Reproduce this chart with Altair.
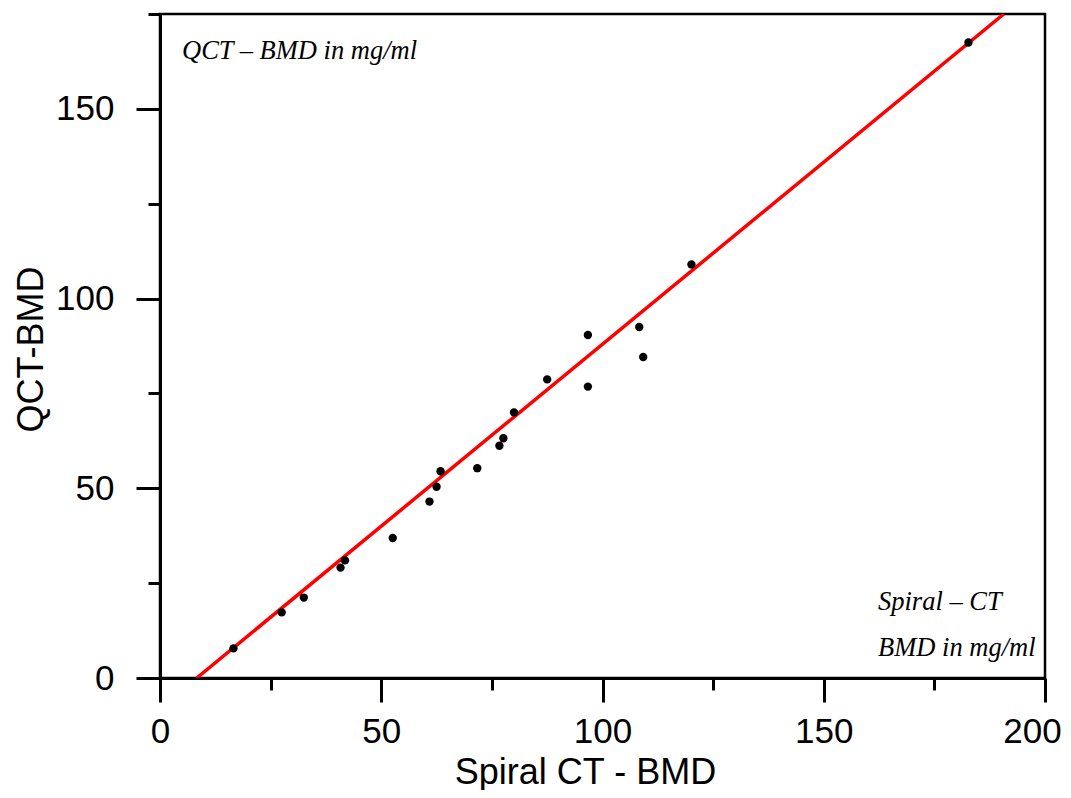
import altair as alt
import pandas as pd

# Scatter data (Spiral CT - BMD vs QCT-BMD)
spiral_ct = [16.6, 27.5, 32.5, 40.8, 41.8, 52.6, 60.9, 62.5, 63.4, 71.7, 76.7, 77.6,
             80.0, 87.5, 96.7, 96.7, 108.3, 109.2, 120.1, 182.7]
qct = [7.8, 17.3, 21.2, 29.1, 31.0, 36.9, 46.5, 50.4, 54.5, 55.3, 61.2, 63.2,
       70.0, 78.7, 90.4, 76.8, 92.5, 84.6, 109.0, 167.5]

# Regression line end points
line_x = [8.3, 190.7]
line_y = [0.0, 175.0]

x_ticks = [0, 25, 50, 75, 100, 125, 150, 175, 200]
y_ticks = [0, 25, 50, 75, 100, 125, 150, 175]

pts = pd.DataFrame({"x": spiral_ct, "y": qct})
ln = pd.DataFrame({"x": line_x, "y": line_y})

W, H = 885, 664
font = "Liberation Sans"

xscale = alt.Scale(domain=[0, 200], nice=False, zero=False)
yscale = alt.Scale(domain=[0, 175], nice=False, zero=False)

major_test = "datum.value % 50 === 0"

xaxis = alt.Axis(
    values=x_ticks, grid=False, domainColor="black", domainWidth=3,
    tickColor="black", tickWidth=3,
    tickSize={"condition": {"test": major_test, "value": 24}, "value": 12},
    labelExpr="datum.value % 50 === 0 ? datum.label : ''",
    labelOffset={"condition": {"test": "datum.value === 200", "value": -13}, "value": 0},
    labelFont=font, labelFontSize=35, labelColor="black", labelPadding=12,
    labelFlush=False, labelOverlap=False,
    title="Spiral CT - BMD", titleFont=font, titleFontSize=36, titleFontWeight="normal",
    titleColor="black", titleX=425, titleY=105, titleBaseline="alphabetic", titleAnchor="middle",
)
yaxis = alt.Axis(
    values=y_ticks, grid=False, domainColor="black", domainWidth=3,
    tickColor="black", tickWidth=3,
    tickSize={"condition": {"test": major_test, "value": 24}, "value": 12},
    labelExpr="datum.value % 50 === 0 ? datum.label : ''",
    labelFont=font, labelFontSize=35, labelColor="black", labelPadding=22,
    labelFlush=False, labelOverlap=False,
    title="QCT-BMD", titleFont=font, titleFontSize=36, titleFontWeight="normal",
    titleColor="black", titleX=-118, titleY=335, titleBaseline="alphabetic", titleAnchor="middle",
)

points = alt.Chart(pts).mark_circle(size=70, color="black", opacity=1).encode(
    x=alt.X("x:Q", scale=xscale, axis=xaxis),
    y=alt.Y("y:Q", scale=yscale, axis=yaxis),
)

line = alt.Chart(ln).mark_line(color="#ff0000", strokeWidth=3.5, clip=True).encode(
    x=alt.X("x:Q", scale=xscale),
    y=alt.Y("y:Q", scale=yscale),
)

ann = pd.DataFrame({
    "t": ["QCT \u2013 BMD in mg/ml", "Spiral \u2013 CT", "BMD in mg/ml"],
    "px": [22, 718, 718],
    "py": [45, 596, 642],
})
texts = alt.Chart(ann).mark_text(
    font="Liberation Serif", fontStyle="italic", fontSize=26.5, align="left",
    baseline="alphabetic", color="black"
).encode(
    x=alt.X("px:Q", scale=None),
    y=alt.Y("py:Q", scale=None),
    text="t:N",
)

chart = alt.layer(line, points, texts).properties(
    width=W, height=H,
    autosize=alt.AutoSizeParams(type="none"),
    padding={"left": 152, "top": 6, "right": 18, "bottom": 112},
    background="white",
).configure_view(stroke="black", strokeWidth=2.5)

chart.save("out.html", embed_options={"renderer": "svg", "actions": False})
